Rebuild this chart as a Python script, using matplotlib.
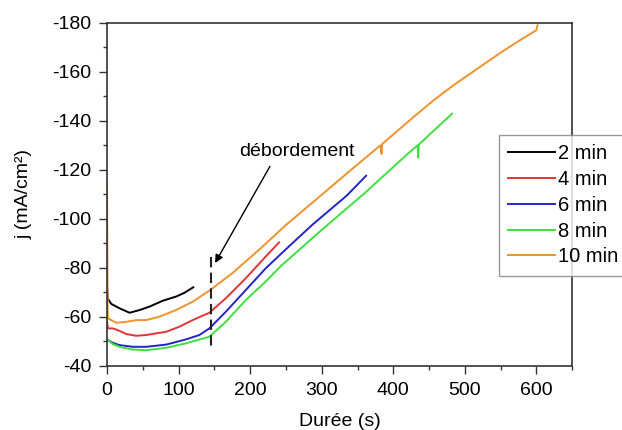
"""
Densité de courant en fonction de la durée (2 à 10 min)
"""

import numpy as np
import matplotlib.pyplot as plt
from matplotlib.ticker import MultipleLocator

plt.rcParams['font.family'] = ['Liberation Sans', 'DejaVu Sans']
plt.rcParams['axes.unicode_minus'] = False

# données
t_2min = [0, 1, 6, 17.6, 31.6, 45.5, 59.4, 78, 96.5, 108, 120.6]
j_2min = [-73, -67.5, -65.3, -63.5, -61.7, -62.8, -64.2, -66.6, -68.3, -69.8, -72.1]

t_4min = [0, 1.4, 8.4, 17.6, 26.9, 40.8, 54.8, 68.7, 82.6, 101, 119.7, 143, 166, 194, 222, 240.4]
j_4min = [-58, -55.3, -55.3, -54.3, -53, -52.3, -52.6, -53.3, -53.9, -56, -58.7, -61.7, -67.6, -75.8, -84.7, -90.4]

t_6min = [0, 1.4, 8.4, 17.6, 36, 54.8, 82.6, 110, 129, 143, 166, 194, 222, 249.6, 268, 288.5, 335, 362]
j_6min = [-51, -50.5, -49.4, -48.5, -47.8, -47.8, -48.7, -50.8, -52.6, -55.3, -62.1, -71, -79.9, -87.5, -92.5, -98, -109.5, -117.6]

t_8min = [0, 1.4, 8.4, 17.6, 36, 54.8, 82.6, 110, 143, 166, 194, 222, 242, 300, 360, 420, 434, 434.8, 435.6, 482]
j_8min = [-51, -50.5, -48.9, -47.8, -46.7, -46.4, -47.4, -49.2, -51.9, -58, -66.9, -74.5, -80.5, -95.5, -110.5, -126.5, -130, -125, -130.3, -142.9]

t_10min = [0, 1, 1.4, 13, 27, 40.8, 54.8, 73.3, 96.5, 119.7, 143, 175, 212.5, 250, 288.5, 335,
           382, 383.6, 384.4, 428, 456, 484, 531, 554, 577.6, 600, 601.5]
j_10min = [-115, -62, -59.4, -57.6, -58, -58.7, -58.7, -60.1, -62.8, -66.2, -70.7, -77.8, -87.4, -97.5, -107, -118.5,
           -130, -126.5, -130.5, -141.5, -148.3, -154.5, -164, -168.6, -173, -177, -179]

series = [(t_2min, j_2min, '2 min', 'black'),
          (t_4min, j_4min, '4 min', '#e03535'),
          (t_6min, j_6min, '6 min', '#2424c8'),
          (t_8min, j_8min, '8 min', '#3ee03e'),
          (t_10min, j_10min, '10 min', '#f0922e')]

t_debordement = 145.5
j_debordement = [-84.6, -46.5]

fig = plt.figure(figsize=(6.22, 4.30), dpi=100)
ax = fig.add_axes([0.172, 0.149, 0.748, 0.798])

for t, j, lab, c in series:
    ax.plot(t, j, color=c, lw=1.4, label=lab)

ax.plot([t_debordement, t_debordement], j_debordement, color='#222222', lw=1.5, dashes=(5, 2.5))
ax.annotate('débordement', xy=(151, -82), xytext=(265, -127.5),
            ha='center', va='center', fontsize=14,
            arrowprops=dict(arrowstyle='-|>', color='black', lw=1, mutation_scale=12,
                            relpos=(0.3, 0), shrinkA=3, shrinkB=0))

ax.set_xlim(0, 650)
ax.set_ylim(-40, -180)
ax.xaxis.set_major_locator(MultipleLocator(100))
ax.xaxis.set_minor_locator(MultipleLocator(50))
ax.yaxis.set_major_locator(MultipleLocator(20))
ax.yaxis.set_minor_locator(MultipleLocator(10))
ax.tick_params(which='both', direction='out', labelsize=14, width=1, color='#333333', pad=5.5)
ax.tick_params(which='major', length=6)
ax.tick_params(which='minor', length=3)
for s in ax.spines.values():
    s.set_color('#333333')
    s.set_linewidth(1.2)

ax.set_xlabel('Durée (s)', fontsize=14, labelpad=10)
ax.set_ylabel('j (mA/cm²)', fontsize=14, labelpad=14)

leg = ax.legend(loc='upper left', bbox_to_anchor=(0.802, 0.686), bbox_transform=fig.transFigure,
                fontsize=14.5, frameon=True, fancybox=False, handlelength=2.35, handletextpad=0.15,
                labelspacing=0.34, borderpad=0.45, borderaxespad=0)
leg.get_frame().set_edgecolor('#808080')
leg.get_frame().set_linewidth(1)

fig.savefig('out.png', dpi=100)
